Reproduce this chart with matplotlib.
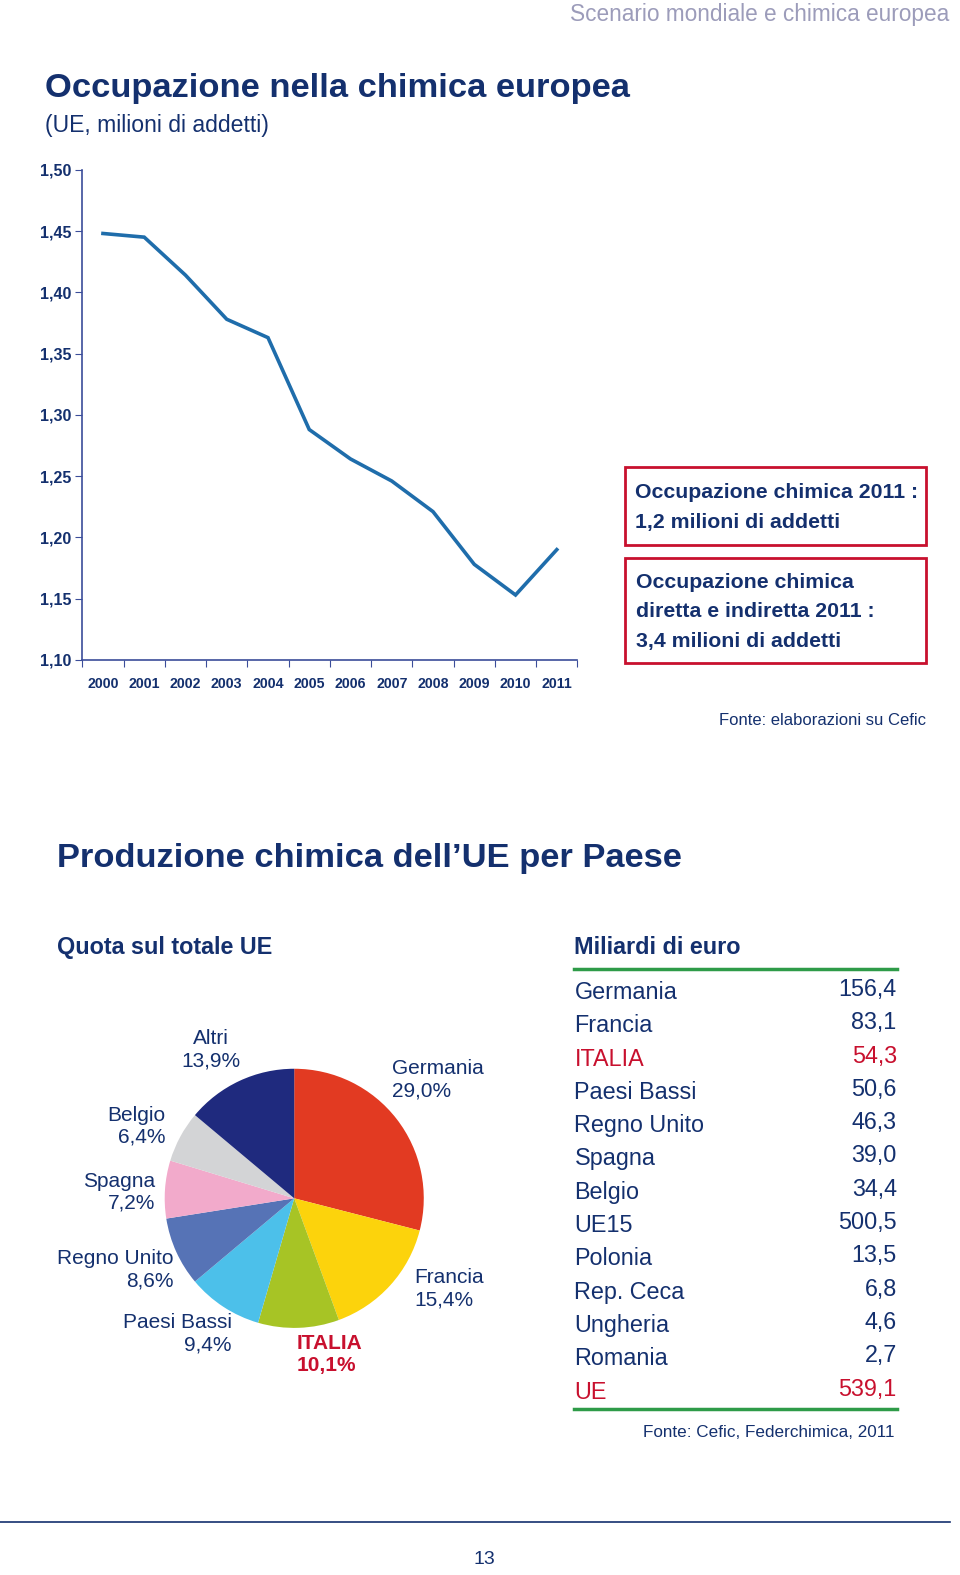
import numpy as np
import matplotlib
matplotlib.use('Agg')
import matplotlib.pyplot as plt
import matplotlib.patches as patches

plt.rcParams['font.family'] = ['Liberation Sans', 'DejaVu Sans']

# --- data ---
years = ['2000', '2001', '2002', '2003', '2004', '2005',
         '2006', '2007', '2008', '2009', '2010', '2011']
occupati = [1.448, 1.445, 1.414, 1.378, 1.363, 1.288,
            1.264, 1.246, 1.221, 1.178, 1.153, 1.190]
y_ticks = [1.10, 1.15, 1.20, 1.25, 1.30, 1.35, 1.40, 1.45, 1.50]

pie_names = ['Germania', 'Francia', 'ITALIA', 'Paesi Bassi',
             'Regno Unito', 'Spagna', 'Belgio', 'Altri']
pie_shares = [29.0, 15.4, 10.1, 9.4, 8.6, 7.2, 6.4, 13.9]

tab_names = ['Germania', 'Francia', 'ITALIA', 'Paesi Bassi', 'Regno Unito',
             'Spagna', 'Belgio', 'UE15', 'Polonia', 'Rep. Ceca',
             'Ungheria', 'Romania', 'UE']
tab_values = [156.4, 83.1, 54.3, 50.6, 46.3, 39.0, 34.4,
              500.5, 13.5, 6.8, 4.6, 2.7, 539.1]

# --- style ---
W, H = 960, 1575
# layout coordinates below are measured on a 956 x 1568 view of the page
VW, VH = 956, 1568
navy = '#14306e'
red = '#c8102e'
green = '#2e9b48'
line_blue = '#1f6dab'
axis_blue = '#3b4d9a'
pie_colors = ['#e23a22', '#fcd30c', '#a7c425', '#4cc0ea',
              '#5673b6', '#f2aacb', '#d3d4d6', '#1f2a7e']


def fx(x):
    return x / VW


def fy(y):
    return 1 - y / VH


def fmt(v, nd=1):
    return f'{v:.{nd}f}'.replace('.', ',')


fig = plt.figure(figsize=(W / 100, H / 100), dpi=100)

# header and titles
fig.text(fx(945), fy(14), 'Scenario mondiale e chimica europea',
         fontsize=16.3, color='#9c9cba', ha='right', va='center')
fig.text(fx(45), fy(88), 'Occupazione nella chimica europea', fontsize=24.8,
         fontweight='bold', color=navy, ha='left', va='center')
fig.text(fx(45), fy(125), '(UE, milioni di addetti)',
         fontsize=16.6, color=navy, ha='left', va='center')

# --- line chart ---
ax = fig.add_axes([fx(82), fy(657), fx(575) - fx(82), fy(169) - fy(657)])
x = np.arange(len(years))
ax.plot(x, occupati, color=line_blue, lw=2.6, solid_joinstyle='miter')
ax.set_xlim(-0.5, len(years) - 0.5)
ax.set_ylim(1.10, 1.50)
ax.set_yticks(y_ticks)
ax.set_yticklabels([fmt(v, 2) for v in y_ticks], fontsize=11.5,
                   fontweight='bold', color=navy)
ax.set_xticks(np.arange(len(years) + 1) - 0.5)
ax.set_xticklabels([])
ax.set_xticks(x, minor=True)
ax.set_xticklabels(years, minor=True, fontsize=10.2,
                   fontweight='bold', color=navy)
ax.tick_params(axis='x', which='minor', length=0, pad=12)
ax.tick_params(axis='x', which='major', length=5, color=axis_blue, direction='out')
ax.tick_params(axis='y', length=5, color=axis_blue, direction='out', pad=3)
for s in ['top', 'right']:
    ax.spines[s].set_visible(False)
for s in ['left', 'bottom']:
    ax.spines[s].set_color(axis_blue)
    ax.spines[s].set_linewidth(1.2)

# boxes
for (y0, y1) in [(465, 543), (556, 660)]:
    fig.patches.append(patches.Rectangle((fx(622), fy(y1)), fx(922) - fx(622),
                                         fy(y0) - fy(y1), transform=fig.transFigure,
                                         fill=False, edgecolor=red, lw=2))
fig.text(fx(632), fy(505), 'Occupazione chimica 2011 :\n1,2 milioni di addetti',
         fontsize=15.3, fontweight='bold', color=navy,
         ha='left', va='center', linespacing=1.7)
fig.text(fx(633), fy(609), 'Occupazione chimica\ndiretta e indiretta 2011 :\n'
         '3,4 milioni di addetti', fontsize=15.3, fontweight='bold',
         color=navy, ha='left', va='center', linespacing=1.7)
fig.text(fx(922), fy(717), 'Fonte: elaborazioni su Cefic', fontsize=12,
         color=navy, ha='right', va='center')

# --- second section ---
fig.text(fx(57), fy(855), 'Produzione chimica dell\u2019UE per Paese', fontsize=24.8,
         fontweight='bold', color=navy, ha='left', va='center')
fig.text(fx(57), fy(943), 'Quota sul totale UE', fontsize=16.8,
         fontweight='bold', color=navy, ha='left', va='center')
fig.text(fx(572), fy(943), 'Miliardi di euro', fontsize=16.8,
         fontweight='bold', color=navy, ha='left', va='center')

# pie
r = 129
cx, cy = 293, 1193
pax = fig.add_axes([fx(cx - r), fy(cy + r), fx(2 * r), 2 * r / VH])
pax.pie(pie_shares, colors=pie_colors, startangle=90, counterclock=False,
        radius=1, wedgeprops=dict(linewidth=0))
pax.set_xlim(-1, 1)
pax.set_ylim(-1, 1)
pax.set_aspect('auto')
pax.axis('off')

label_pos = {
    'Germania': (390, 1075, 'left'),
    'Francia': (413, 1283, 'left'),
    'ITALIA': (295, 1348, 'left'),
    'Paesi Bassi': (231, 1328, 'right'),
    'Regno Unito': (173, 1264, 'right'),
    'Spagna': (155, 1187, 'right'),
    'Belgio': (165, 1121, 'right'),
    'Altri': (210, 1045, 'center'),
}
for name, share in zip(pie_names, pie_shares):
    px, py, ha = label_pos[name]
    is_it = name == 'ITALIA'
    fig.text(fx(px), fy(py), f'{name}\n{fmt(share)}%', fontsize=15,
             color=red if is_it else navy, fontweight='bold' if is_it else 'normal',
             ha=ha, va='center', multialignment=ha, linespacing=1.2)

# table
fig.add_artist(plt.Line2D([fx(572), fx(893)], [fy(965), fy(965)], color=green, lw=2.5))
fig.add_artist(plt.Line2D([fx(572), fx(893)], [fy(1403), fy(1403)], color=green, lw=2.5))
row_y = np.linspace(988, 1386, len(tab_names))
for name, val, yy in zip(tab_names, tab_values, row_y):
    c = red if name in ('ITALIA', 'UE') else navy
    fig.text(fx(572), fy(yy), name, fontsize=16.8, color=c, ha='left', va='center')
    fig.text(fx(893), fy(yy - 3), fmt(val), fontsize=16.8, color=c, ha='right', va='center')
fig.text(fx(891), fy(1426), 'Fonte: Cefic, Federchimica, 2011', fontsize=12.3,
         color=navy, ha='right', va='center')

# footer
fig.add_artist(plt.Line2D([0, fx(946)], [fy(1515), fy(1515)], color=navy, lw=1.2))
fig.text(fx(482), fy(1553), '13', fontsize=14, color=navy, ha='center', va='center')

fig.savefig('out.png', dpi=100, facecolor='white')
